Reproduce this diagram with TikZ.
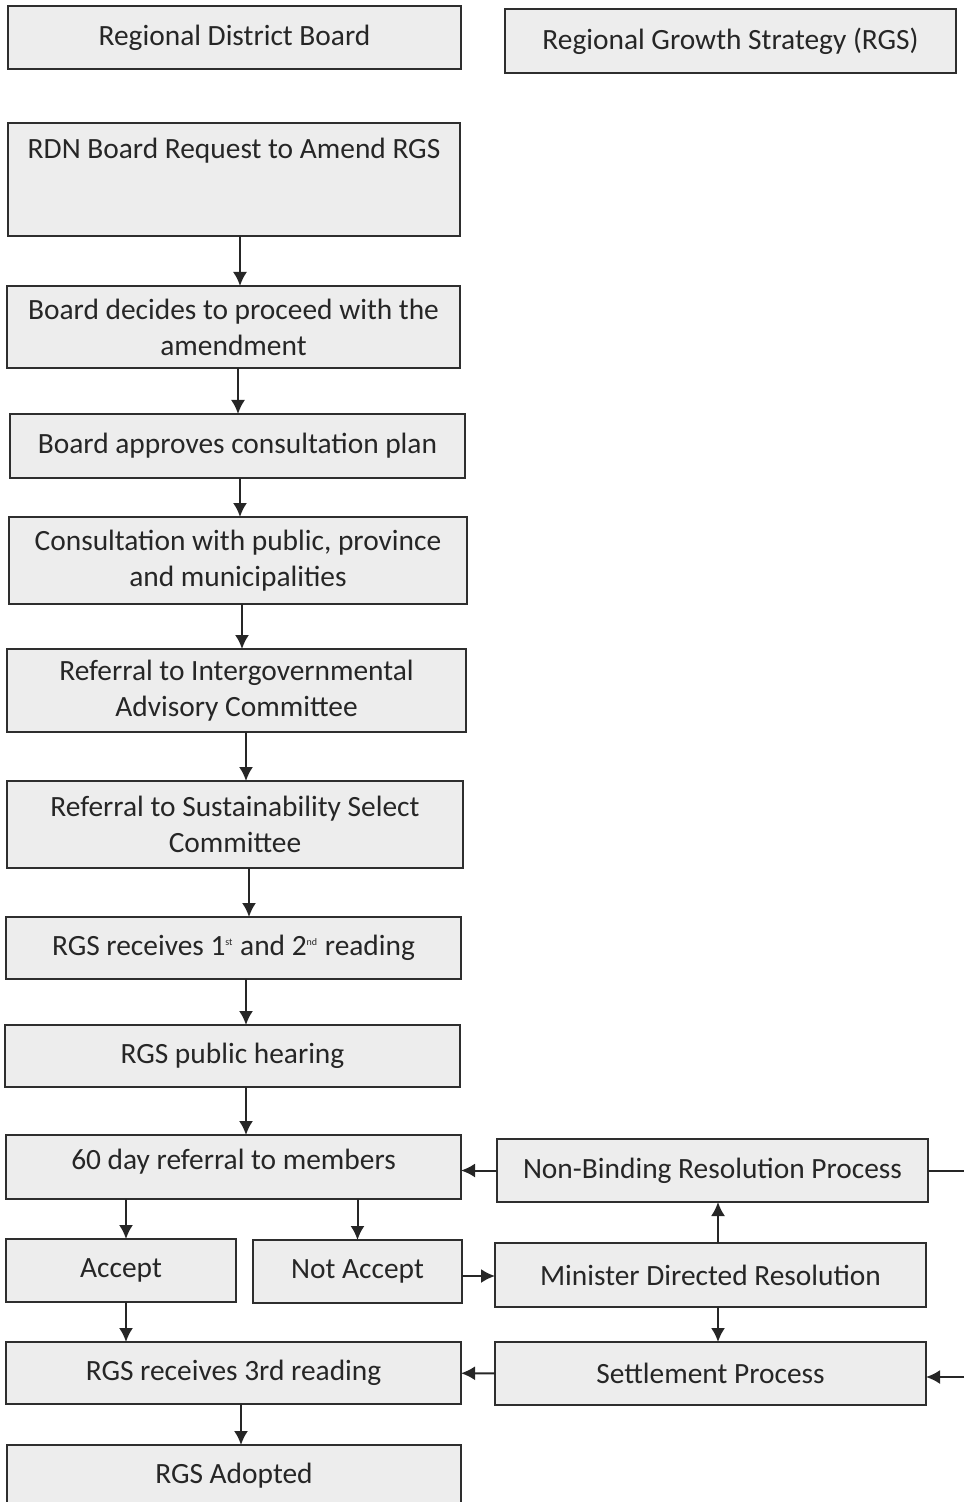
\documentclass[tikz,border=0pt]{standalone}
\usepackage{fontspec}
\setmainfont{Carlito}
\usepackage{xcolor}
\usepackage{tikz}
\usetikzlibrary{arrows.meta,positioning,calc}
\definecolor{boxfill}{HTML}{EDEDED}
\definecolor{boxline}{HTML}{2E2E2E}
\definecolor{ink}{HTML}{262626}
\tikzset{
    every picture/.style={line join=miter},
    stepbox/.style={draw=boxline,fill=boxfill,line width=0.85pt,
      minimum width=227pt,minimum height=31.5pt,inner sep=2pt,outer sep=0pt,
      text=ink,align=center},
    flowarrow/.style={-{Latex[length=7pt,width=7pt]},draw=ink,line width=1pt},
    flowline/.style={draw=ink,line width=1pt}
}
\begin{document}
\begin{tikzpicture}[x=0.5pt,y=-0.5pt,font=\fontsize{14.7}{18}\selectfont]
    \useasboundingbox (0,0) rectangle (964,1502);
    % header boxes
    \node[stepbox,minimum width=226.5pt] (rdb) at (234.5,37.5) {Regional District Board};
    \node[stepbox,minimum width=225.5pt,minimum height=32pt] (rgs) at (730.5,41) {Regional Growth Strategy (RGS)};
    % main column
    \node[stepbox,minimum width=226pt,text height=16pt,text depth=36.5pt] (req) at (234,179.5) {RDN Board Request to Amend RGS};
    \node[stepbox,minimum width=226.5pt,minimum height=41pt] (decide) at (233.5,327) {Board decides to proceed with the\\amendment};
    \node[stepbox,minimum width=227.5pt,minimum height=32pt] (approve) at (237.5,446) {Board approves consultation plan};
    \node[stepbox,minimum width=229pt,minimum height=43.5pt] (consult) at (238,560.5) {Consultation with public, province\\and municipalities};
    \node[stepbox,minimum width=229.5pt,minimum height=41.5pt] (intergov) at (236.5,690.5) {Referral to Intergovernmental\\Advisory Committee};
    \node[stepbox,minimum width=228pt,minimum height=43.5pt] (sustain) at (235,824.5) {Referral to Sustainability Select\\Committee};
    \node[stepbox,minimum width=227.5pt,minimum height=31pt] (reading12) at (233.5,948) {RGS receives 1\textsuperscript{\tiny st} and 2\textsuperscript{\tiny nd} reading};
    \node[stepbox,minimum width=227.5pt,minimum height=31pt] (hearing) at (232.5,1056) {RGS public hearing};
    \node[stepbox,minimum width=227.5pt,minimum height=32pt,text depth=8pt] (referral) at (233.5,1167) {60 day referral to members};
    \node[stepbox,minimum width=115pt] (accept) at (121,1270.5) {Accept};
    \node[stepbox,minimum width=104.5pt] (notaccept) at (357.5,1271.5) {Not Accept};
    \node[stepbox,minimum width=227.5pt,minimum height=31pt] (reading3) at (233.5,1373) {RGS receives 3rd reading};
    \node[stepbox,minimum width=227pt,minimum height=31pt] (adopted) at (234,1476) {RGS Adopted};
    % resolution column
    \node[stepbox,minimum width=215.5pt] (nonbind) at (712.5,1170.5) {Non-Binding Resolution Process};
    \node[stepbox,minimum width=215.5pt,minimum height=32pt] (minister) at (710.5,1275) {Minister Directed Resolution};
    \node[stepbox,minimum width=215.5pt] (settle) at (710.5,1373.5) {Settlement Process};
    \coordinate (nbout) at (964,1170.5);
    \coordinate (setin) at (964,1377);
    % connectors
    \draw[flowarrow] (req.south -| 240,0) -- (240,0 |- decide.north);
    \draw[flowarrow] (decide.south -| 238,0) -- (238,0 |- approve.north);
    \draw[flowarrow] (approve.south -| 240,0) -- (240,0 |- consult.north);
    \draw[flowarrow] (consult.south -| 242,0) -- (242,0 |- intergov.north);
    \draw[flowarrow] (intergov.south -| 246,0) -- (246,0 |- sustain.north);
    \draw[flowarrow] (sustain.south -| 249,0) -- (249,0 |- reading12.north);
    \draw[flowarrow] (reading12.south -| 246,0) -- (246,0 |- hearing.north);
    \draw[flowarrow] (hearing.south -| 246,0) -- (246,0 |- referral.north);
    \draw[flowarrow] (referral.south -| 126,0) -- (126,0 |- accept.north);
    \draw[flowarrow] (notaccept |- referral.south) -- (notaccept);
    \draw[flowarrow] (accept.south -| 126,0) -- (126,0 |- reading3.north);
    \draw[flowarrow] (reading3.south -| 241,0) -- (241,0 |- adopted.north);
    \draw[flowarrow] (nonbind) -- (referral.east |- nonbind);
    \draw[flowarrow] (notaccept.east |- 0,1276) -- (minister.west |- 0,1276);
    \draw[flowarrow] (minister.north -| 718,0) -- (718,0 |- nonbind.south);
    \draw[flowarrow] (minister.south -| 718,0) -- (718,0 |- settle.north);
    \draw[flowarrow] (settle) -- (reading3);
    \draw[flowline] (nonbind) -- (nbout);
    \draw[flowarrow] (setin) -- (settle.east |- setin);
\end{tikzpicture}
\end{document}
